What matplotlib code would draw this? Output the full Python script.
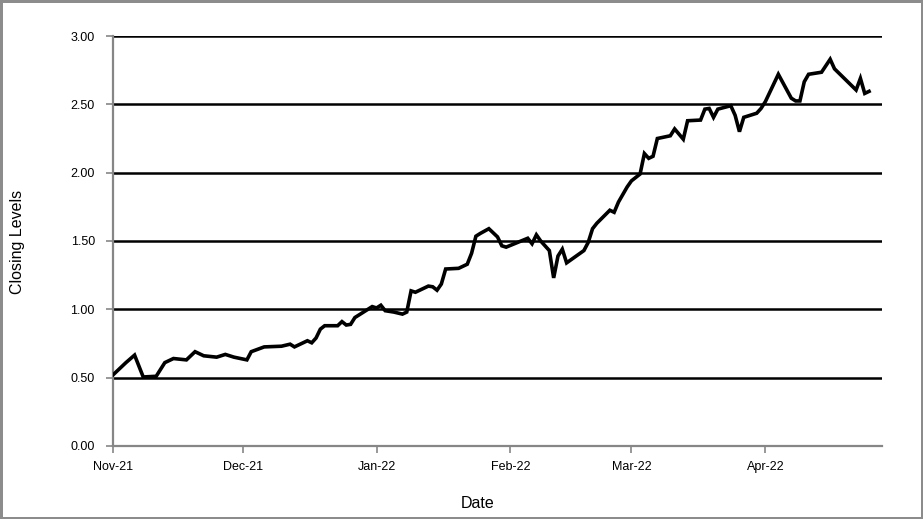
import matplotlib
matplotlib.use("Agg")
import matplotlib.pyplot as plt
import matplotlib.dates as mdates
import pandas as pd

# closing levels
dates = [
    "2021-11-01", "2021-11-04", "2021-11-06", "2021-11-08", "2021-11-11", "2021-11-13",
    "2021-11-15", "2021-11-18", "2021-11-20", "2021-11-22", "2021-11-25", "2021-11-27",
    "2021-11-29", "2021-12-02", "2021-12-03", "2021-12-06", "2021-12-10", "2021-12-12",
    "2021-12-13", "2021-12-16", "2021-12-17", "2021-12-18", "2021-12-19", "2021-12-20",
    "2021-12-23", "2021-12-24", "2021-12-25", "2021-12-26", "2021-12-27", "2021-12-29",
    "2021-12-31", "2022-01-01", "2022-01-02", "2022-01-03", "2022-01-05", "2022-01-07",
    "2022-01-08", "2022-01-09", "2022-01-10", "2022-01-13", "2022-01-14", "2022-01-15",
    "2022-01-16", "2022-01-17", "2022-01-20", "2022-01-22", "2022-01-23", "2022-01-24",
    "2022-01-25", "2022-01-27", "2022-01-29", "2022-01-30", "2022-01-31", "2022-02-05",
    "2022-02-06", "2022-02-07", "2022-02-08", "2022-02-10", "2022-02-11", "2022-02-12",
    "2022-02-13", "2022-02-14", "2022-02-18", "2022-02-19", "2022-02-20", "2022-02-21",
    "2022-02-24", "2022-02-25", "2022-02-26", "2022-02-28", "2022-03-01", "2022-03-03",
    "2022-03-04", "2022-03-05", "2022-03-06", "2022-03-07", "2022-03-10", "2022-03-11",
    "2022-03-13", "2022-03-14", "2022-03-17", "2022-03-18", "2022-03-19", "2022-03-20",
    "2022-03-21", "2022-03-24", "2022-03-25", "2022-03-26", "2022-03-27", "2022-03-30",
    "2022-03-31", "2022-04-01", "2022-04-04", "2022-04-07", "2022-04-08", "2022-04-09",
    "2022-04-10", "2022-04-11", "2022-04-14", "2022-04-16", "2022-04-17", "2022-04-22",
    "2022-04-23", "2022-04-24", "2022-04-25",
]
closing = [
    0.52, 0.61, 0.665, 0.505, 0.51, 0.61,
    0.64, 0.63, 0.69, 0.66, 0.65, 0.67,
    0.65, 0.63, 0.69, 0.725, 0.73, 0.745,
    0.725, 0.77, 0.755, 0.79, 0.855, 0.88,
    0.88, 0.91, 0.885, 0.89, 0.94, 0.98,
    1.02, 1.01, 1.03, 0.99, 0.98, 0.965,
    0.98, 1.135, 1.125, 1.17, 1.165, 1.14,
    1.185, 1.295, 1.30, 1.33, 1.41, 1.535,
    1.555, 1.59, 1.53, 1.465, 1.455, 1.52,
    1.48, 1.545, 1.50, 1.43, 1.23, 1.39,
    1.44, 1.34, 1.43, 1.49, 1.59, 1.63,
    1.725, 1.71, 1.785, 1.895, 1.94, 1.99,
    2.14, 2.105, 2.12, 2.25, 2.27, 2.32,
    2.245, 2.38, 2.385, 2.465, 2.47, 2.405,
    2.465, 2.49, 2.42, 2.30, 2.405, 2.435,
    2.47, 2.52, 2.72, 2.545, 2.525, 2.525,
    2.665, 2.72, 2.735, 2.83, 2.76, 2.605,
    2.69, 2.58, 2.595,
]
month_ticks = ["2021-11-01", "2021-12-01", "2022-01-01", "2022-02-01", "2022-03-01", "2022-04-01"]
y_ticks = [0.0, 0.5, 1.0, 1.5, 2.0, 2.5, 3.0]

plt.rcParams['font.family'] = ['Liberation Sans', 'DejaVu Sans']

fig = plt.figure(figsize=(9.23, 5.19), dpi=100)
fig.patch.set_edgecolor('#8c8c8c')
fig.patch.set_linewidth(2.5)
ax = fig.add_axes([0.1224, 0.1407, 0.9556 - 0.1224, 0.9306 - 0.1407])

x = pd.to_datetime(dates)
ax.plot(x, closing, color='black', linewidth=2.6, solid_joinstyle='miter', zorder=3)

ax.set_ylim(0, 3)
ax.set_yticks(y_ticks)
ax.yaxis.set_major_formatter(plt.FormatStrFormatter('%.2f'))
for yv in y_ticks[1:]:
    ax.axhline(yv, color='black', linewidth=1.8, zorder=1)

ax.set_xlim(pd.Timestamp("2021-11-01"), pd.Timestamp("2022-04-28"))
ax.set_xticks(pd.to_datetime(month_ticks))
ax.xaxis.set_major_formatter(mdates.DateFormatter('%b-%y'))

for side in ['top', 'right']:
    ax.spines[side].set_visible(False)
for side in ['left', 'bottom']:
    ax.spines[side].set_color('#868686')
    ax.spines[side].set_linewidth(1.6)
ax.tick_params(axis='both', colors='#868686', length=5, width=1.2, labelsize=9, labelcolor='black')
ax.tick_params(axis='y', pad=8)
ax.tick_params(axis='x', pad=6)

fig.text(478 / 923, 1 - 504 / 519, "Date", fontsize=11.5, ha='center', va='center')
fig.text(18 / 923, 1 - 242 / 519, "Closing Levels", fontsize=11.5, rotation=90,
         ha='center', va='center')

fig.savefig("out.png", dpi=100)
